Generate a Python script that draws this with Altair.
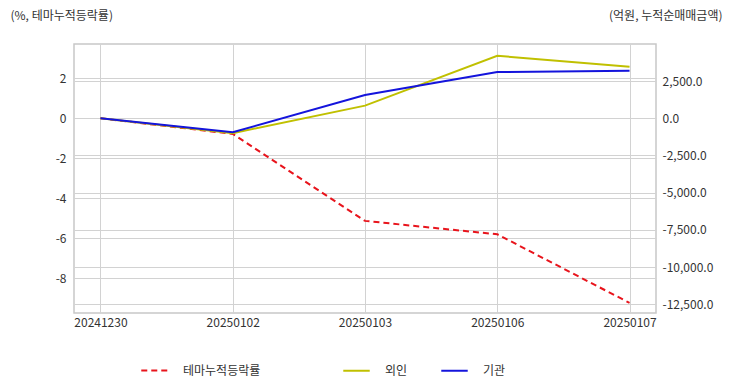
import altair as alt
import pandas as pd

dates = ["20241230", "20250102", "20250103", "20250106", "20250107"]
theme_rate = [0.0, -0.78, -5.13, -5.80, -9.23]
foreign = [0.0, -1000.0, 850.0, 4200.0, 3470.0]
institution = [0.0, -940.0, 1570.0, 3110.0, 3200.0]

left_ticks = [-8, -6, -4, -2, 0, 2]
right_ticks = [-12500, -10000, -7500, -5000, -2500, 0, 2500]

RED = "#e8141c"
YELLOW = "#c0c000"
BLUE = "#1414dc"
FONT = "Noto Sans CJK KR"

df_theme = pd.DataFrame({"date": dates, "value": theme_rate, "series": "테마누적등락률"})
df_flow = pd.concat([
    pd.DataFrame({"date": dates, "value": foreign, "series": "외인"}),
    pd.DataFrame({"date": dates, "value": institution, "series": "기관"}),
])

x_enc = alt.X("date:N", sort=dates, title=None,
              scale=alt.Scale(type="point", padding=0.2),
              axis=alt.Axis(labelAngle=0, grid=True, domain=False, ticks=False,
                            labelPadding=4))

left = alt.Chart(df_theme).mark_line(strokeWidth=2, color=RED).encode(
    x=x_enc,
    y=alt.Y("value:Q", title="(%, 테마누적등락률)",
            scale=alt.Scale(domain=[-9.735, 3.715], nice=False, zero=False),
            axis=alt.Axis(values=left_ticks, grid=True, domain=False, ticks=False,
                          labelPadding=8,
                          labelExpr="datum.value + ''",
                          titleAngle=0, titleAlign="left", titleBaseline="middle",
                          titleX=-64, titleY=-29, titleFontWeight="normal")),
    strokeDash=alt.StrokeDash("series:N",
        scale=alt.Scale(domain=["테마누적등락률"], range=[[6, 4]]),
        legend=alt.Legend(title=None, orient="none", legendX=66, legendY=312,
                          direction="horizontal", symbolType="stroke",
                          symbolStrokeColor=RED, symbolStrokeWidth=2,
                          symbolSize=700, labelOffset=14)),
)

right = alt.Chart(df_flow).mark_line(strokeWidth=2).encode(
    x=x_enc,
    y=alt.Y("value:Q", title="(억원, 누적순매매금액)",
            scale=alt.Scale(domain=[-13085, 4993], nice=False, zero=False),
            axis=alt.Axis(orient="right", values=right_ticks, grid=True, domain=False,
                          ticks=False, labelPadding=6,
                          labelExpr="replace(format(datum.value, ',.1f'), '\u2212', '-')",
                          titleAngle=0, titleAlign="right", titleBaseline="middle",
                          titleX=66, titleY=-29, titleFontWeight="normal")),
    color=alt.Color("series:N",
        scale=alt.Scale(domain=["외인", "기관"], range=[YELLOW, BLUE]),
        legend=alt.Legend(title=None, orient="none", legendX=268, legendY=312,
                          direction="horizontal", symbolType="stroke",
                          symbolStrokeWidth=2, symbolSize=700, labelOffset=14,
                          columnPadding=29)),
)

chart = alt.layer(left, right).resolve_scale(y="independent").properties(
    width=582, height=269,
    autosize=alt.AutoSizeParams(type="none"),
    padding={"left": 66, "top": 36, "right": 68, "bottom": 71},
).configure(font=FONT).configure_view(
    stroke="#c8c8c8", strokeWidth=1.5
).configure_axis(
    labelFont=FONT, titleFont=FONT, labelFontSize=12, titleFontSize=12,
    labelColor="#333333", titleColor="#333333", gridColor="#d2d2d2", gridWidth=1
).configure_legend(
    labelFont=FONT, labelFontSize=12, labelColor="#333333"
)

chart.save("out.html", embed_options={"renderer": "svg", "actions": False})
